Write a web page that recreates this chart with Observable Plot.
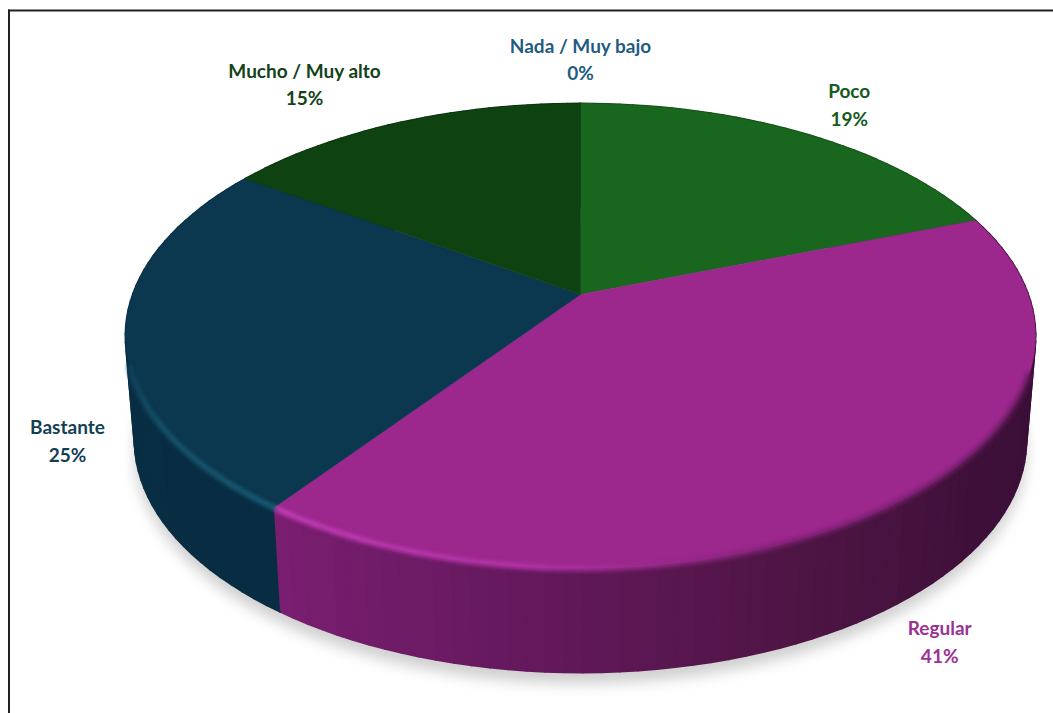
<!DOCTYPE html>
<html><head><meta charset="utf-8">
<script src="https://cdn.jsdelivr.net/npm/d3@7"></script>
<script src="https://cdn.jsdelivr.net/npm/@observablehq/plot@0.6"></script>
<style>html,body{margin:0;padding:0;background:#fff}svg{display:block}</style>
</head><body><div id="chart"></div>
<script>
// data
const categories = ["Nada / Muy bajo", "Poco", "Regular", "Bastante", "Mucho / Muy alto"];
const shares = [0, 19.3, 40.6, 24.6, 15.4];
const topColors = ["#1f5c80", "#19661f", "#9c278d", "#0b374f", "#0e4211"];
const labelColors = ["#1f5c80", "#175a1e", "#9b3192", "#123f55", "#14421a"];
const sideStops = [["#1f5c80","#1f5c80"],["#124a16","#124a16"],["#3a0f36","#3b0f38","#3e1039","#4f1545","#65195d","#7b1e72"],["#082d42","#092f46"],["#0a300d","#0a300d"]];
const rimStops = [["#1f5c80","#1f5c80"],["#1a661f","#1a661f"],["#5a1853","#5a1853","#6a1c62","#7a2070","#b835ab","#c740bc"],["#1b6078","#17566f","#0b374f","#0b374f","#0b374f"],["#0e4211","#0e4211"]];
const labelDx = [0, 46, 43, -58, -96];
const labelDy = [-46, -30, 137, 105, -40];

// projection of the tilted disc (perspective k, lower-face shrink and depth)
const k = 0.1785, shrink = 0.98, depth = 104 / 225;
function ring(deg, lower = 0, extra = 0) {
  const t = deg * Math.PI / 180, X = Math.sin(t), Y = Math.cos(t), w = 1 + k * Y;
  const sc = lower ? shrink : 1;
  return {x: sc * X / w, y: Y / w - (lower ? depth + extra : 0)};
}
const total = d3.sum(shares);
const cum = d3.cumsum(shares);
const slices = categories.map((c, i) => ({
  i, c, a0: (cum[i] - shares[i]) / total * 360, a1: cum[i] / total * 360
}));
const steps = (a, b, n) => d3.range(n + 1).map(j => a + (b - a) * j / n);

const topPts = [], sidePts = [], rimPts = [], shadowPts = [];
slices.forEach(s => {
  if (s.a1 <= s.a0) return;
  topPts.push({id: s.i, fill: topColors[s.i], x: 0, y: 0});
  steps(s.a0, s.a1, 80).forEach(a => topPts.push({id: s.i, fill: topColors[s.i], ...ring(a)}));
  topPts.push({id: s.i, fill: topColors[s.i], x: 0, y: 0});
  // front wall, split into narrow strips for shading
  const n = Math.max(1, Math.round((s.a1 - s.a0) / 2));
  const sideC = d3.piecewise(d3.interpolateRgb, sideStops[s.i]);
  const rimC = d3.piecewise(d3.interpolateRgb, rimStops[s.i]);
  d3.range(n).forEach(j => {
    const a = s.a0 + (s.a1 - s.a0) * j / n, b = s.a0 + (s.a1 - s.a0) * (j + 1) / n;
    const id = s.i * 1000 + j, fill = sideC((j + 0.5) / n), stroke = rimC((j + 0.5) / n);
    [ring(a), ring(b), ring(b, 1), ring(a, 1)].forEach(p => sidePts.push({id, fill, ...p}));
    if (a >= 108 && b <= 254) [ring(a), ring(b)].forEach(p => rimPts.push({id, stroke, ...p}));
  });
});
steps(0, 360, 180).forEach(a => shadowPts.push(ring(a, 1, 0.05)));

const chart = Plot.plot({
  width: 1053, height: 713,
  marginLeft: 8.5, marginRight: 0, marginTop: 10, marginBottom: 0,
  x: {domain: [-1, 1], range: [132.3, 1027.7], axis: null},
  y: {domain: [-1, 1], range: [519, 69], axis: null},
  color: {type: "identity"},
  marks: [
    Plot.line(shadowPts, {x: "x", y: "y", fill: "#cfcfcf", stroke: "none", curve: "linear", imageFilter: "blur(7px)"}),
    Plot.line(sidePts, {x: "x", y: "y", z: "id", fill: "fill", stroke: "fill", strokeWidth: 2, curve: "linear"}),
    Plot.line(topPts, {x: "x", y: "y", z: "id", fill: "fill", stroke: "fill", strokeWidth: 0.5, curve: "linear"}),
    Plot.line(rimPts, {x: "x", y: "y", z: "id", stroke: "stroke", strokeWidth: 5, curve: "linear", imageFilter: "blur(2px)"}),
    ...slices.map(s => Plot.text([s], {
      x: d => ring((d.a0 + d.a1) / 2).x,
      y: d => ring((d.a0 + d.a1) / 2).y,
      text: d => `${d.c}\n${Math.round(shares[d.i])}%`,
      dx: labelDx[s.i], dy: labelDy[s.i],
      fill: labelColors[s.i],
      fontFamily: "Lato", fontWeight: 700, fontSize: 19, lineHeight: 1.47
    })),
    Plot.frame({anchor: "left", stroke: "#222", strokeWidth: 2}),
    Plot.frame({anchor: "top", stroke: "#222", strokeWidth: 2})
  ]
});
document.getElementById("chart").append(chart);
</script></body></html>
